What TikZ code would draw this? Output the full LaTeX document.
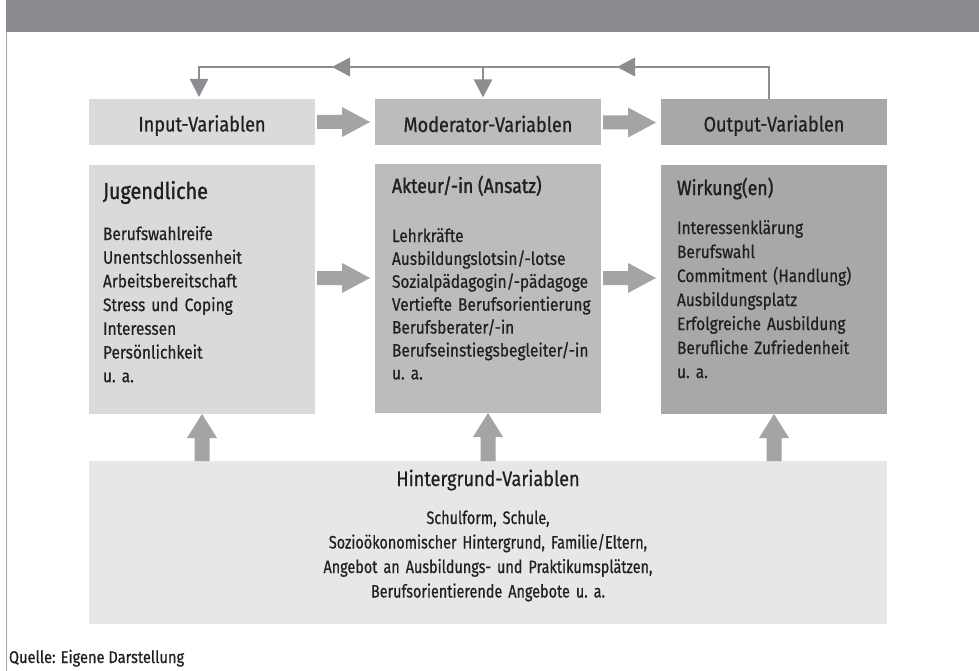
\documentclass[tikz,border=0pt]{standalone}
\usepackage{fontspec}
\setmainfont{Fira Sans}[FakeStretch=0.86,FakeBold=0.6]
\newfontfamily\titlefont{Fira Sans}[FakeStretch=0.86,FakeBold=1.4]
\newfontfamily\narrowfont{Fira Sans}[FakeStretch=0.80,FakeBold=0.6]
\usetikzlibrary{calc,arrows.meta}
\definecolor{band}{HTML}{8A8B8E}
\definecolor{inpc}{HTML}{D9DADB}
\definecolor{modc}{HTML}{BBBCBE}
\definecolor{outc}{HTML}{A7A8AA}
\definecolor{hgc}{HTML}{E6E7E8}
\definecolor{blkc}{HTML}{A3A4A6}
\definecolor{fbc}{HTML}{8C8D90}
\definecolor{edgec}{HTML}{A5A5A5}
\definecolor{txtc}{HTML}{231F20}
\newcommand\blkarrowR[2]{%
  \fill[blkc] let \p1=(#1), \p2=(#2) in
    (\x1+2pt,\y1+7pt) -- (\x2-33pt,\y1+7pt) -- (\x2-33pt,\y1+15pt) --
    (\x2-5pt,\y1) -- (\x2-33pt,\y1-15pt) -- (\x2-33pt,\y1-7pt) --
    (\x1+2pt,\y1-7pt) -- cycle;}
\newcommand\blkarrowU[2]{%
  \fill[blkc] let \p1=(#1), \p2=(#2) in
    (\x1-7.5pt,\y2) -- (\x1-7.5pt,\y1-24pt) -- (\x1-15pt,\y1-24pt) --
    (\x1,\y1) -- (\x1+15pt,\y1-24pt) -- (\x1+7.5pt,\y1-24pt) --
    (\x1+7.5pt,\y2) -- cycle;}
\newcommand\midhead[1]{%
  \fill[fbc] let \p1=(#1) in
    (\x1-9pt,\y1) -- (\x1+9pt,\y1+9.5pt) -- (\x1+9pt,\y1-9.5pt) -- cycle;}
\begin{document}
\begin{tikzpicture}[x=1pt,y=-1pt,
  every node/.style={inner sep=0pt,outer sep=0pt,text=txtc},
  topbox/.style={minimum width=226pt,minimum height=46pt,anchor=north west,
    font=\fontsize{21}{24}\selectfont,text height=19pt,text depth=0pt},
  lowbox/.style={minimum width=226pt,minimum height=249pt,anchor=north west},
  boxtitle/.style={anchor=base west,font=\titlefont\fontsize{20.5}{24}\selectfont},
  fb/.style={draw=fbc,line width=2.3pt},
  fbtip/.style={-{Triangle[length=18pt,width=18pt]},shorten >=2pt}]
\useasboundingbox (0,0) rectangle (979,671);
\fill[white] (0,0) rectangle (979,671);
% header band and left rule
\fill[band] (6,0) rectangle (979,32);
\draw[edgec,line width=1.3pt] (6.6,32) -- (6.6,671);
% top boxes
\node[topbox,fill=inpc] (inpt) at (89,99) {Input-Variablen};
\node[topbox,fill=modc] (modt) at (375,99.5) {Moderator-Variablen};
\node[topbox,fill=outc] (outt) at (661,99) {Output-Variablen};
% lower boxes
\node[lowbox,fill=inpc] (inb) at (89,165) {};
\node[lowbox,fill=modc] (modb) at (375,164) {};
\node[lowbox,fill=outc] (outb) at (661,165) {};
% background box
\node[minimum width=798pt,minimum height=163pt,anchor=north west,fill=hgc] (hg) at (89,461) {};
% box texts
\node[boxtitle,font=\titlefont\fontsize{23}{26}\selectfont] (jt) at (103,199) {Jugendliche};
\node[anchor=base west,align=left,text width=210pt,font=\fontsize{18}{23.7}\selectfont] (jl) at (103,240)
  {Berufswahlreife\\Unentschlossenheit\\Arbeitsbereitschaft\\Stress und Coping\\Interessen\\Persönlichkeit\\u.\ a.};
\node[boxtitle] (at) at (392,193) {Akteur/-in (Ansatz)};
\node[anchor=base west,align=left,text width=210pt,font=\fontsize{18}{22.9}\selectfont] (al) at (392,242)
  {Lehrkräfte\\Ausbildungslotsin/-lotse\\Sozialpädagogin/-pädagoge\\Vertiefte Berufsorientierung\\Berufsberater/-in\\Berufseinstiegsbegleiter/-in\\u.\ a.};
\node[boxtitle] (wt) at (677,195) {Wirkung(en)};
\node[anchor=base west,align=left,text width=210pt,font=\fontsize{18}{24}\selectfont] (wl) at (677,234)
  {Interessenklärung\\Berufswahl\\Commitment (Handlung)\\Ausbildungsplatz\\Erfolgreiche Ausbildung\\Berufliche Zufriedenheit\\u.\ a.};
\node[anchor=base,font=\fontsize{21}{24}\selectfont] (hgt) at (488,486) {Hintergrund-Variablen};
\node[anchor=base,align=center,text width=700pt,font=\narrowfont\fontsize{18}{24.5}\selectfont] (hgl) at (488,524)
  {Schulform, Schule,\\Sozioökonomischer Hintergrund, Familie/Eltern,\\Angebot an Ausbildungs- und Praktikumsplätzen,\\Berufsorientierende Angebote u.\ a.};
\node[anchor=base west,font=\fontsize{17}{20}\selectfont] (src) at (9,663) {Quelle: Eigene Darstellung};
% block arrows between top boxes
\blkarrowR{inpt.east}{modt.west}
\blkarrowR{modt.east}{outt.west}
% block arrows between lower boxes
\coordinate (ya) at ($(inb.north east)+(0,113)$);
\blkarrowR{ya}{modb.west}
\coordinate (yb) at ($(modb.north east)+(0,114)$);
\blkarrowR{yb}{outb.west}
% up arrows from background box
\blkarrowU{inb.south}{hg.north}
\blkarrowU{modb.south}{hg.north}
\blkarrowU{outb.south}{hg.north}
% feedback connector
\coordinate (yl) at (0,67);
\coordinate (fR) at ($(outt.north)+(-5,0)$);
\coordinate (fM) at ($(modt.north)+(-5,0)$);
\coordinate (fL) at ($(inpt.north)+(-3,0)$);
\draw[fb,fbtip] (fR) -- (fR |- yl) -- (fL |- yl) -- (fL);
\draw[fb,fbtip] (fM |- yl) -- (fM);
\coordinate (h1) at ($(fR |- yl)!0.5!(fM |- yl)$);
\coordinate (h2) at ($(fM |- yl)!0.5!(fL |- yl)$);
\midhead{h1}
\midhead{h2}
\end{tikzpicture}
\end{document}
